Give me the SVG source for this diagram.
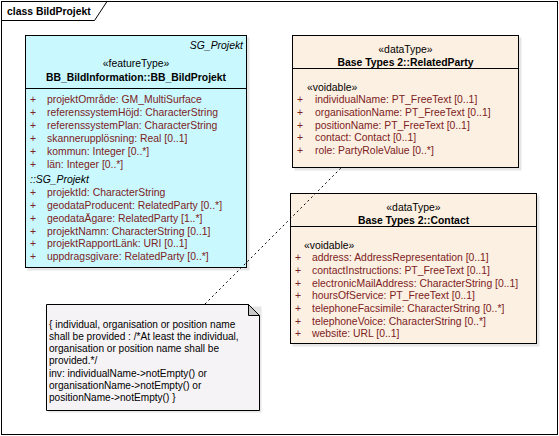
<svg xmlns="http://www.w3.org/2000/svg" width="559" height="436" viewBox="0 0 559 436">
<style>
text{font-family:"Liberation Sans",Arial,sans-serif;font-size:10.4px;fill:#000}
.b{font-weight:bold}
.i{font-style:italic}
.c{text-anchor:middle}
.r{text-anchor:end}
.a{fill:#7d2222}
.box{stroke:#000;stroke-width:1}
.sh{fill:#d6d6d6;opacity:0.6}
.ft{fill:#c9f9ff}
.dt{fill:#fcf0e3}
.note{fill:#f6f3f6;stroke:#000;stroke-width:1}
.n{font-size:10.1px}
.con{fill:none;stroke:#000;stroke-width:1;stroke-dasharray:2,3}
</style>
<rect x="0" y="0" width="559" height="436" fill="#fff"/>
<g id="frame">
<rect x="1.5" y="1.5" width="556" height="433" fill="none" stroke="#000"/>
<path d="M1.5 20.5 H94.5 L107 1.5" fill="none" stroke="#000"/>
<text class="b" x="7" y="14.5">class BildProjekt</text>
</g>
<g id="BB_BildProjekt">
<rect class="sh" x="27.5" y="37.5" width="222" height="233"/>
<rect class="box ft" x="25.5" y="35.5" width="221" height="232"/>
<line x1="25.5" y1="88.5" x2="246.5" y2="88.5" stroke="#000"/>
<text class="i r" x="243" y="49">SG_Projekt</text>
<text class="c" x="136" y="67">«featureType»</text>
<text class="b c" x="136" y="80.5">BB_BildInformation::BB_BildProjekt</text>
<text class="a" x="30" y="103">+</text><text class="a" x="47" y="103">projektOmråde: GM_MultiSurface</text>
<text class="a" x="30" y="116">+</text><text class="a" x="47" y="116">referenssystemHöjd: CharacterString</text>
<text class="a" x="30" y="129">+</text><text class="a" x="47" y="129">referenssystemPlan: CharacterString</text>
<text class="a" x="30" y="142">+</text><text class="a" x="47" y="142">skannerupplösning: Real [0..1]</text>
<text class="a" x="30" y="155">+</text><text class="a" x="47" y="155">kommun: Integer [0..*]</text>
<text class="a" x="30" y="168">+</text><text class="a" x="47" y="168">län: Integer [0..*]</text>
<text class="i" x="30" y="182.5">::SG_Projekt</text>
<text class="a" x="30" y="196.3">+</text><text class="a" x="47" y="196.3">projektId: CharacterString</text>
<text class="a" x="30" y="209">+</text><text class="a" x="47" y="209">geodataProducent: RelatedParty [0..*]</text>
<text class="a" x="30" y="221.8">+</text><text class="a" x="47" y="221.8">geodataÄgare: RelatedParty [1..*]</text>
<text class="a" x="30" y="234.5">+</text><text class="a" x="47" y="234.5">projektNamn: CharacterString [0..1]</text>
<text class="a" x="30" y="247.3">+</text><text class="a" x="47" y="247.3">projektRapportLänk: URI [0..1]</text>
<text class="a" x="30" y="260">+</text><text class="a" x="47" y="260">uppdragsgivare: RelatedParty [0..*]</text>
</g>
<g id="RelatedParty">
<rect class="sh" x="294.5" y="37.5" width="227" height="133"/>
<rect class="box dt" x="292.5" y="35.5" width="226" height="132"/>
<line x1="292.5" y1="68.5" x2="518.5" y2="68.5" stroke="#000"/>
<text class="c" x="405.5" y="53">«dataType»</text>
<text class="b c" x="405.5" y="65.5">Base Types 2::RelatedParty</text>
<text x="307" y="90.5">«voidable»</text>
<text class="a" x="297" y="103.2">+</text><text class="a" x="315" y="103.2">individualName: PT_FreeText [0..1]</text>
<text class="a" x="297" y="115.9">+</text><text class="a" x="315" y="115.9">organisationName: PT_FreeText [0..1]</text>
<text class="a" x="297" y="128.6">+</text><text class="a" x="315" y="128.6">positionName: PT_FreeText [0..1]</text>
<text class="a" x="297" y="141.3">+</text><text class="a" x="315" y="141.3">contact: Contact [0..1]</text>
<text class="a" x="297" y="154">+</text><text class="a" x="315" y="154">role: PartyRoleValue [0..*]</text>
</g>
<g id="Contact">
<rect class="sh" x="292.5" y="195.5" width="247" height="151"/>
<rect class="box dt" x="290.5" y="193.5" width="246" height="150"/>
<line x1="290.5" y1="226.5" x2="536.5" y2="226.5" stroke="#000"/>
<text class="c" x="413.5" y="211">«dataType»</text>
<text class="b c" x="413.5" y="223.5">Base Types 2::Contact</text>
<text x="304" y="248.5">«voidable»</text>
<text class="a" x="295" y="261.2">+</text><text class="a" x="312" y="261.2">address: AddressRepresentation [0..1]</text>
<text class="a" x="295" y="273.9">+</text><text class="a" x="312" y="273.9">contactInstructions: PT_FreeText [0..1]</text>
<text class="a" x="295" y="286.6">+</text><text class="a" x="312" y="286.6">electronicMailAddress: CharacterString [0..1]</text>
<text class="a" x="295" y="299.3">+</text><text class="a" x="312" y="299.3">hoursOfService: PT_FreeText [0..1]</text>
<text class="a" x="295" y="312">+</text><text class="a" x="312" y="312">telephoneFacsimile: CharacterString [0..*]</text>
<text class="a" x="295" y="324.7">+</text><text class="a" x="312" y="324.7">telephoneVoice: CharacterString [0..*]</text>
<text class="a" x="295" y="337.4">+</text><text class="a" x="312" y="337.4">website: URL [0..1]</text>
</g>
<g id="Note">
<rect class="sh" x="48.5" y="306.5" width="213" height="106"/>
<path class="note" d="M46.5 304.5 H248.5 L259.5 315.5 V410.5 H46.5 Z"/>
<path d="M248.5 304.5 V315.5 H259.5 Z" fill="#c8c8c8" stroke="#000"/>
<text class="n" x="49" y="327.5">{ individual, organisation or position name</text>
<text class="n" x="49" y="339.7">shall be provided : /*At least the individual,</text>
<text class="n" x="49" y="352">organisation or position name shall be</text>
<text class="n" x="49" y="364.2">provided.*/</text>
<text class="n" x="49" y="376.5">inv: individualName-&gt;notEmpty() or</text>
<text class="n" x="49" y="388.7">organisationName-&gt;notEmpty() or</text>
<text class="n" x="49" y="401">positionName-&gt;notEmpty() }</text>
</g>
<g id="connectors">
<line class="con" x1="205" y1="304" x2="341" y2="168"/>
</g>
</svg>
